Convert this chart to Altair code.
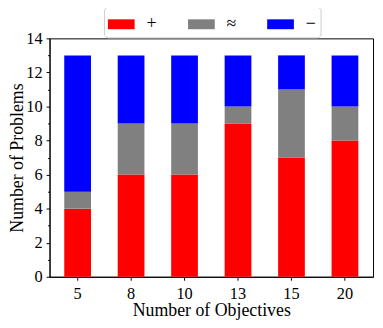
import altair as alt
import pandas as pd

objectives = ["5", "8", "10", "13", "15", "20"]
plus_counts = [4, 6, 6, 9, 7, 8]
approx_counts = [1, 3, 3, 1, 4, 2]
minus_counts = [8, 4, 4, 3, 2, 3]
categories = ["+", "≈", "−"]
colors = ["#ff0000", "#808080", "#0000ff"]

rows = []
for i, o in enumerate(objectives):
    for k, (c, vals) in enumerate(zip(categories, [plus_counts, approx_counts, minus_counts])):
        rows.append({"obj": o, "cat": c, "val": vals[i], "order": k})
df = pd.DataFrame(rows)

FONT = "Liberation Serif"

chart = alt.Chart(df).mark_bar().encode(
    x=alt.X("obj:O", sort=objectives,
            scale=alt.Scale(paddingInner=0.5, paddingOuter=0.275),
            axis=alt.Axis(title="Number of Objectives", labelAngle=0, tickSize=3.5,
                          labelPadding=5, titleY=39, titleBaseline="alphabetic")),
    y=alt.Y("val:Q", stack="zero",
            scale=alt.Scale(domain=[0, 14], nice=False),
            axis=alt.Axis(title="Number of Problems", values=list(range(15)),
                          labelExpr="datum.value % 2 === 0 ? datum.label : ''",
                          tickSize={"condition": {"test": "datum.value % 2 === 0", "value": 3.5}, "value": 2},
                          labelPadding=4, titleX=-27, titleBaseline="alphabetic")),
    color=alt.Color("cat:N", scale=alt.Scale(domain=categories, range=colors),
                    legend=alt.Legend(title=None, orient="none", legendX=55, legendY=-32,
                                      direction="horizontal", columns=3,
                                      symbolType="M-1,-0.37H1V0.37H-1Z", symbolSize=729,
                                      symbolStrokeWidth=0, symbolOpacity=1,
                                      labelFont=FONT, labelFontSize=18, labelOffset=12,
                                      labelColor="black",
                                      columnPadding=31, padding=4,
                                      strokeColor="#cccccc", cornerRadius=4,
                                      fillColor="white")),
    order=alt.Order("order:Q"),
).properties(
    width=327, height=241,
    padding={"left": 42, "top": 29, "right": 2, "bottom": 42},
    autosize=alt.AutoSizeParams(type="none"),
).configure_view(
    stroke="black", strokeWidth=1,
).configure_axis(
    labelFont=FONT, titleFont=FONT, labelFontSize=16.5, titleFontSize=18,
    titleFontWeight="normal", labelColor="black", titleColor="black",
    domainColor="black", tickColor="black", grid=False,
)

chart.save("out.html", embed_options={"renderer": "svg", "actions": False})
